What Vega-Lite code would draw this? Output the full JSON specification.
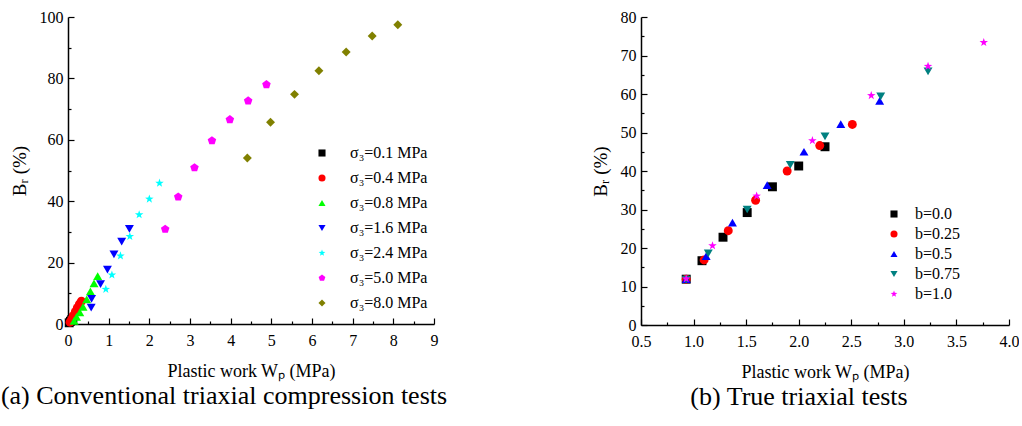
{
  "$schema": "https://vega.github.io/schema/vega-lite/v6.json",
  "background": "white",
  "padding": {"left": 0, "top": 9, "right": 0, "bottom": 0},
  "spacing": 143,
  "config": {
    "view": {"stroke": null},
    "font": "Times New Roman",
    "style": {
      "guide-label": {"font": "Times New Roman", "fill": "black"},
      "guide-title": {"font": "Times New Roman", "fill": "black"}
    },
    "axis": {
      "labelFont": "Times New Roman", "titleFont": "Times New Roman",
      "labelFontSize": 16, "titleFontSize": 18, "titleFontWeight": "normal",
      "labelColor": "black", "titleColor": "black",
      "domainColor": "black", "tickColor": "black", "domainWidth": 1.5, "tickWidth": 1.2,
      "grid": false
    },
    "legend": {
      "labelFont": "Times New Roman", "labelFontSize": 16, "labelColor": "black",
      "orient": "none", "title": null, "symbolSize": 50, "symbolStrokeWidth": 0
    },
    "title": {"font": "Times New Roman", "fontSize": 26, "fontWeight": "normal", "color": "black", "orient": "bottom", "offset": 3}
  },
  "datasets": {
    "a": [
      {"g": "σ₃=0.1 MPa", "W": 0.03, "B": 0.4},
      {"g": "σ₃=0.1 MPa", "W": 0.06, "B": 0.9},
      {"g": "σ₃=0.1 MPa", "W": 0.09, "B": 1.4},
      {"g": "σ₃=0.1 MPa", "W": 0.12, "B": 1.9},
      {"g": "σ₃=0.4 MPa", "W": 0.05, "B": 0.6},
      {"g": "σ₃=0.4 MPa", "W": 0.09, "B": 1.5},
      {"g": "σ₃=0.4 MPa", "W": 0.13, "B": 2.7},
      {"g": "σ₃=0.4 MPa", "W": 0.18, "B": 4.0},
      {"g": "σ₃=0.4 MPa", "W": 0.23, "B": 5.3},
      {"g": "σ₃=0.4 MPa", "W": 0.28, "B": 6.5},
      {"g": "σ₃=0.4 MPa", "W": 0.33, "B": 7.4},
      {"g": "σ₃=0.8 MPa", "W": 0.15, "B": 1.0},
      {"g": "σ₃=0.8 MPa", "W": 0.21, "B": 2.3},
      {"g": "σ₃=0.8 MPa", "W": 0.29, "B": 3.8},
      {"g": "σ₃=0.8 MPa", "W": 0.37, "B": 5.6},
      {"g": "σ₃=0.8 MPa", "W": 0.46, "B": 8.0},
      {"g": "σ₃=0.8 MPa", "W": 0.55, "B": 10.6},
      {"g": "σ₃=0.8 MPa", "W": 0.64, "B": 13.2},
      {"g": "σ₃=0.8 MPa", "W": 0.73, "B": 15.6},
      {"g": "σ₃=1.6 MPa", "W": 0.57, "B": 5.3},
      {"g": "σ₃=1.6 MPa", "W": 0.58, "B": 8.2},
      {"g": "σ₃=1.6 MPa", "W": 0.8, "B": 13.0},
      {"g": "σ₃=1.6 MPa", "W": 0.97, "B": 17.7},
      {"g": "σ₃=1.6 MPa", "W": 1.13, "B": 22.7},
      {"g": "σ₃=1.6 MPa", "W": 1.32, "B": 26.8},
      {"g": "σ₃=1.6 MPa", "W": 1.51, "B": 31.0},
      {"g": "σ₃=2.4 MPa", "W": 0.93, "B": 11.3},
      {"g": "σ₃=2.4 MPa", "W": 1.08, "B": 16.0},
      {"g": "σ₃=2.4 MPa", "W": 1.29, "B": 22.2},
      {"g": "σ₃=2.4 MPa", "W": 1.52, "B": 28.5},
      {"g": "σ₃=2.4 MPa", "W": 1.75, "B": 35.6},
      {"g": "σ₃=2.4 MPa", "W": 2.0, "B": 40.7},
      {"g": "σ₃=2.4 MPa", "W": 2.25, "B": 45.9},
      {"g": "σ₃=5.0 MPa", "W": 2.39, "B": 30.9},
      {"g": "σ₃=5.0 MPa", "W": 2.71, "B": 41.4},
      {"g": "σ₃=5.0 MPa", "W": 3.11, "B": 50.9},
      {"g": "σ₃=5.0 MPa", "W": 3.54, "B": 59.7},
      {"g": "σ₃=5.0 MPa", "W": 3.98, "B": 66.6},
      {"g": "σ₃=5.0 MPa", "W": 4.43, "B": 72.7},
      {"g": "σ₃=5.0 MPa", "W": 4.88, "B": 78.0},
      {"g": "σ₃=8.0 MPa", "W": 4.41, "B": 54.1},
      {"g": "σ₃=8.0 MPa", "W": 4.98, "B": 65.7},
      {"g": "σ₃=8.0 MPa", "W": 5.57, "B": 74.8},
      {"g": "σ₃=8.0 MPa", "W": 6.17, "B": 82.5},
      {"g": "σ₃=8.0 MPa", "W": 6.84, "B": 88.6},
      {"g": "σ₃=8.0 MPa", "W": 7.48, "B": 93.8},
      {"g": "σ₃=8.0 MPa", "W": 8.11, "B": 97.5}
    ],
    "b": [
      {"g": "b=0.0", "W": 0.93, "B": 11.9},
      {"g": "b=0.0", "W": 1.08, "B": 16.7},
      {"g": "b=0.0", "W": 1.28, "B": 22.8},
      {"g": "b=0.0", "W": 1.51, "B": 29.2},
      {"g": "b=0.0", "W": 1.75, "B": 35.9},
      {"g": "b=0.0", "W": 2.0, "B": 41.3},
      {"g": "b=0.0", "W": 2.25, "B": 46.3},
      {"g": "b=0.25", "W": 0.93, "B": 11.9},
      {"g": "b=0.25", "W": 1.1, "B": 16.9},
      {"g": "b=0.25", "W": 1.33, "B": 24.5},
      {"g": "b=0.25", "W": 1.59, "B": 32.4},
      {"g": "b=0.25", "W": 1.89, "B": 40.0},
      {"g": "b=0.25", "W": 2.2, "B": 46.6},
      {"g": "b=0.25", "W": 2.51, "B": 52.1},
      {"g": "b=0.5", "W": 0.93, "B": 11.9},
      {"g": "b=0.5", "W": 1.12, "B": 17.9},
      {"g": "b=0.5", "W": 1.37, "B": 26.6},
      {"g": "b=0.5", "W": 1.7, "B": 36.3},
      {"g": "b=0.5", "W": 2.05, "B": 45.0},
      {"g": "b=0.5", "W": 2.4, "B": 52.2},
      {"g": "b=0.5", "W": 2.77, "B": 58.2},
      {"g": "b=0.75", "W": 0.93, "B": 11.8},
      {"g": "b=0.75", "W": 1.14, "B": 18.6},
      {"g": "b=0.75", "W": 1.51, "B": 30.0},
      {"g": "b=0.75", "W": 1.92, "B": 41.6},
      {"g": "b=0.75", "W": 2.25, "B": 49.0},
      {"g": "b=0.75", "W": 2.78, "B": 59.4},
      {"g": "b=0.75", "W": 3.23, "B": 65.9},
      {"g": "b=1.0", "W": 0.93, "B": 12.0},
      {"g": "b=1.0", "W": 1.18, "B": 20.6},
      {"g": "b=1.0", "W": 1.6, "B": 33.5},
      {"g": "b=1.0", "W": 2.13, "B": 47.9},
      {"g": "b=1.0", "W": 2.69, "B": 59.6},
      {"g": "b=1.0", "W": 3.23, "B": 67.2},
      {"g": "b=1.0", "W": 3.76, "B": 73.4}
    ]
  },
  "hconcat": [
    {
      "width": 366, "height": 307,
      "data": {"name": "a"},
      "title": {"text": "(a) Conventional triaxial compression tests", "dx": -27, "font": "Times New Roman", "fontSize": 26},
      "mark": {"type": "point", "filled": true, "size": 80, "opacity": 1},
      "encoding": {
        "x": {"field": "W", "type": "quantitative",
          "scale": {"domain": [0, 9], "nice": false, "zero": false},
          "axis": {"title": "Plastic work Wₚ (MPa)", "values": [0,0.5,1,1.5,2,2.5,3,3.5,4,4.5,5,5.5,6,6.5,7,7.5,8,8.5,9],
            "labelExpr": "datum.value % 1 === 0 ? format(datum.value, 'd') : ''",
            "labelFont": "Times New Roman", "titleFont": "Times New Roman", "labelFontSize": 16, "titleFontSize": 18,
            "tickSize": {"condition": {"test": "datum.value % 1 === 0", "value": -6}, "value": -3},
            "labelPadding": 14, "labelFlush": false, "titlePadding": 14}},
        "y": {"field": "B", "type": "quantitative",
          "scale": {"domain": [0, 100], "nice": false},
          "axis": {"title": "Bᵣ (%)", "values": [0,10,20,30,40,50,60,70,80,90,100],
            "labelExpr": "datum.value % 20 === 0 ? format(datum.value, 'd') : ''",
            "labelFont": "Times New Roman", "titleFont": "Times New Roman", "labelFontSize": 16, "titleFontSize": 19,
            "tickSize": {"condition": {"test": "datum.value % 20 === 0", "value": -6}, "value": -3},
            "labelPadding": 11, "labelFlush": false, "titlePadding": 10}},
        "color": {"field": "g", "type": "nominal",
          "scale": {"domain": ["σ₃=0.1 MPa","σ₃=0.4 MPa","σ₃=0.8 MPa","σ₃=1.6 MPa","σ₃=2.4 MPa","σ₃=5.0 MPa","σ₃=8.0 MPa"],
            "range": ["#000000","#ff0000","#00ff00","#0000ff","#00ffff","#ff00ff","#808000"]},
          "legend": {"legendX": 246, "legendY": 128, "rowPadding": 9, "labelOffset": 20, "labelFont": "Times New Roman", "labelFontSize": 16}},
        "shape": {"field": "g", "type": "nominal",
          "scale": {"domain": ["σ₃=0.1 MPa","σ₃=0.4 MPa","σ₃=0.8 MPa","σ₃=1.6 MPa","σ₃=2.4 MPa","σ₃=5.0 MPa","σ₃=8.0 MPa"],
            "range": ["square","circle","triangle-up","triangle-down",
              "M0,-1L0.235,-0.324L0.951,-0.309L0.38,0.124L0.588,0.809L0,0.4L-0.588,0.809L-0.38,0.124L-0.951,-0.309L-0.235,-0.324Z",
              "M0,-1L0.951,-0.309L0.588,0.809L-0.588,0.809L-0.951,-0.309Z",
              "diamond"]},
          "legend": {"legendX": 246, "legendY": 128, "rowPadding": 9, "labelOffset": 20, "labelFont": "Times New Roman", "labelFontSize": 16}}
      }
    },
    {
      "width": 368, "height": 308,
      "data": {"name": "b"},
      "title": {"text": "(b) True triaxial tests", "dx": -26, "font": "Times New Roman", "fontSize": 26},
      "mark": {"type": "point", "filled": true, "size": 80, "opacity": 1},
      "encoding": {
        "x": {"field": "W", "type": "quantitative",
          "scale": {"domain": [0.5, 4.0], "nice": false, "zero": false},
          "axis": {"title": "Plastic work Wₚ (MPa)", "values": [0.5,0.75,1,1.25,1.5,1.75,2,2.25,2.5,2.75,3,3.25,3.5,3.75,4],
            "labelExpr": "datum.value % 0.5 === 0 ? format(datum.value, '.1f') : ''",
            "labelFont": "Times New Roman", "titleFont": "Times New Roman", "labelFontSize": 16, "titleFontSize": 18,
            "tickSize": {"condition": {"test": "datum.value % 0.5 === 0", "value": -6}, "value": -3},
            "labelPadding": 14, "labelFlush": false, "titlePadding": 14}},
        "y": {"field": "B", "type": "quantitative",
          "scale": {"domain": [0, 80], "nice": false},
          "axis": {"title": "Bᵣ (%)", "values": [0,5,10,15,20,25,30,35,40,45,50,55,60,65,70,75,80],
            "labelExpr": "datum.value % 10 === 0 ? format(datum.value, 'd') : ''",
            "labelFont": "Times New Roman", "titleFont": "Times New Roman", "labelFontSize": 16, "titleFontSize": 19,
            "tickSize": {"condition": {"test": "datum.value % 10 === 0", "value": -6}, "value": -3},
            "labelPadding": 11, "labelFlush": false, "titlePadding": 10}},
        "color": {"field": "g", "type": "nominal",
          "scale": {"domain": ["b=0.0","b=0.25","b=0.5","b=0.75","b=1.0"],
            "range": ["#000000","#ff0000","#0000ff","#008080","#ff00ff"]},
          "legend": {"legendX": 245, "legendY": 189, "rowPadding": 4, "labelOffset": 13, "labelFont": "Times New Roman", "labelFontSize": 16}},
        "shape": {"field": "g", "type": "nominal",
          "scale": {"domain": ["b=0.0","b=0.25","b=0.5","b=0.75","b=1.0"],
            "range": ["square","circle","triangle-up","triangle-down",
              "M0,-1L0.235,-0.324L0.951,-0.309L0.38,0.124L0.588,0.809L0,0.4L-0.588,0.809L-0.38,0.124L-0.951,-0.309L-0.235,-0.324Z"]},
          "legend": {"legendX": 245, "legendY": 189, "rowPadding": 4, "labelOffset": 13, "labelFont": "Times New Roman", "labelFontSize": 16}}
      }
    }
  ],
  "resolve": {"scale": {"color": "independent", "shape": "independent"}, "legend": {"color": "independent", "shape": "independent"}}
}
